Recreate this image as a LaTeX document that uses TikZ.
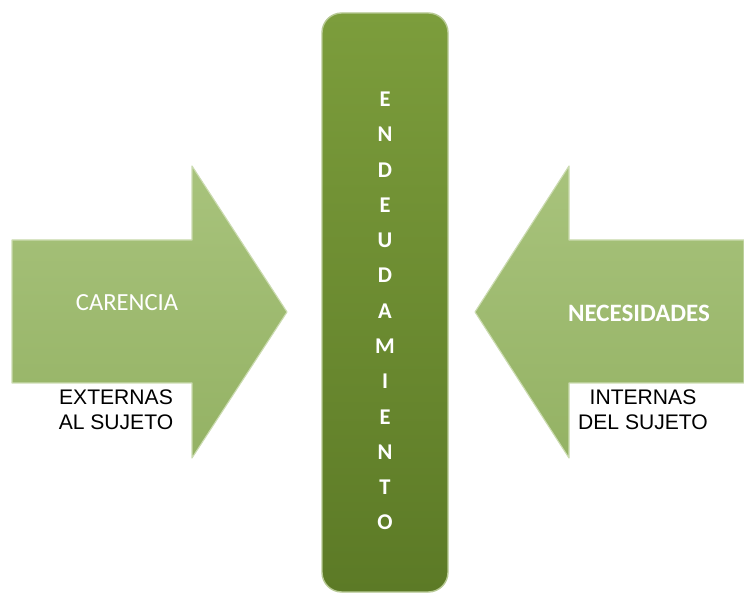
\documentclass[tikz,border=0pt]{standalone}
\usepackage{fontspec}
\usepackage{xcolor}
\newfontfamily\calibri{Carlito}
\newfontfamily\arial{Liberation Sans}
\definecolor{barratop}{HTML}{7C9D3C}
\definecolor{barrabot}{HTML}{5C7A26}
\definecolor{setatop}{HTML}{A8C37C}
\definecolor{setabot}{HTML}{94B264}

\begin{document}
\begin{tikzpicture}[x=0.025cm, y=-0.025cm]
        \tikzstyle{seta}=[top color=setatop, bottom color=setabot, draw=setatop!60!white, line width=0.8pt, line join=round]
        \tikzstyle{barra}=[top color=barratop, bottom color=barrabot, draw=barratop!55!white, line width=1pt, rounded corners=14pt]
        \tikzstyle{rotulo}=[text=white, font=\calibri\fontsize{17.5}{20}\selectfont]
        \tikzstyle{legenda}=[fill=white, align=center, inner sep=2pt, font=\arial\fontsize{15}{17.5}\selectfont]

        \useasboundingbox (0,0) rectangle (744,596);

        % pontos da seta esquerda
        \coordinate (A) at (12,240);
        \coordinate (B) at (192,240);
        \coordinate (C) at (192,166);
        \coordinate (D) at (287,312);
        \coordinate (E) at (192,458);
        \coordinate (F) at (192,383);
        \coordinate (G) at (12,383);

        % pontos da seta direita
        \coordinate (H) at (744,240);
        \coordinate (I) at (569,240);
        \coordinate (J) at (569,166);
        \coordinate (K) at (475,312);
        \coordinate (L) at (569,458);
        \coordinate (M) at (569,383);
        \coordinate (N) at (744,383);

        \draw[seta] (A) -- (B) -- (C) -- (D) -- (E) -- (F) -- (G) -- cycle;
        \draw[seta] (H) -- (I) -- (J) -- (K) -- (L) -- (M) -- (N) -- cycle;

        \draw[barra] (322,13) rectangle (448,592);

        \node (endividamento) at (385,311)[text=white, align=center, font=\calibri\bfseries\fontsize{16}{25.1}\selectfont]
          {E\\N\\D\\E\\U\\D\\A\\M\\I\\E\\N\\T\\O};

        \node (carencia) at (127,303)[rotulo]{CARENCIA};
        \node (necesidades) at (639,313)[rotulo, font=\calibri\bfseries\fontsize{17.8}{20}\selectfont]{NECESIDADES};

        \node (externas) at (116,410)[legenda]{EXTERNAS\\AL SUJETO};
        \node (internas) at (643,410)[legenda]{INTERNAS\\DEL SUJETO};
      \end{tikzpicture}
\end{document}
